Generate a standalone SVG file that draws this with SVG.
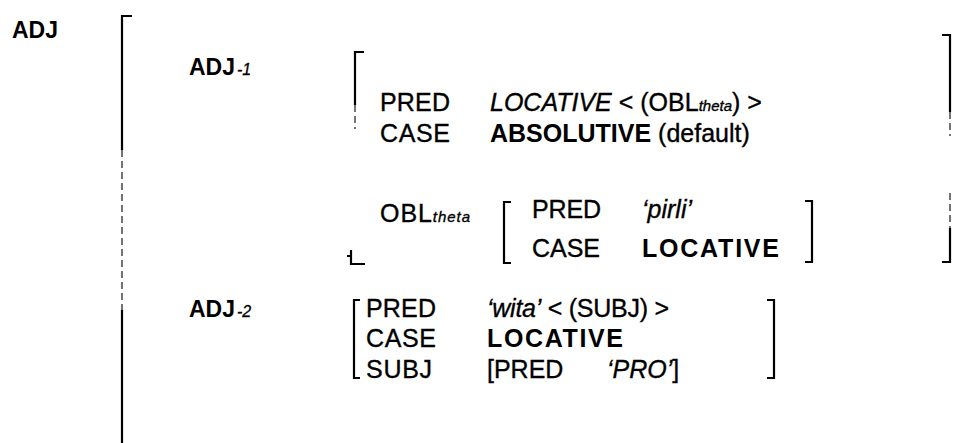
<svg xmlns="http://www.w3.org/2000/svg" width="969" height="443" viewBox="0 0 969 443">
<style>
text{font-family:"Liberation Sans",Arial,sans-serif;fill:#000;stroke:#000;stroke-width:0.35}
.lab{font-size:23px;font-weight:bold;stroke-width:0}
.t{font-size:25px}
.b{font-weight:bold;stroke-width:0}
.i{font-style:italic}
.sub{font-size:15px;font-style:italic}
.lsub{font-size:16px;font-style:italic;font-weight:normal;stroke-width:0.3}
.br{fill:none;stroke:#000;stroke-width:2.2}
.fa{fill:none;stroke:#000;stroke-width:1.1;stroke-dasharray:7 4}
</style>
<rect width="969" height="443" fill="#fff"/>
<g id="connectors">
<path class="br" d="M132,16 H122 V150"/>
<path class="fa" d="M122,150 V310"/>
<path class="br" d="M122,310 V443"/>
</g>
<g id="adj">
<text class="lab" x="12" y="38">ADJ</text>
</g>
<g id="adj1">
<text class="lab" x="189" y="75">ADJ<tspan class="lsub" dx="2">-1</tspan></text>
<path class="br" d="M364,52 H355 V105"/>
<path class="fa" d="M355,105 V129"/>
<text class="t" x="380" y="111" textLength="70">PRED</text>
<text class="t" x="490" y="111"><tspan class="i">LOCATIVE</tspan> &lt; (OBL<tspan class="sub">theta</tspan>) &gt;</text>
<text class="t" x="380" y="142" textLength="70">CASE</text>
<text class="t" x="490" y="142"><tspan class="b">ABSOLUTIVE</tspan> (default)</text>
<path class="br" d="M942,35 H950 V112"/>
<path class="fa" d="M950,112 V136"/>
<text class="t" x="380" y="222" textLength="90">OBL<tspan class="sub">theta</tspan></text>
<path class="br" d="M511,202 H504 V263 H511"/>
<text class="t" x="532" y="218" textLength="69">PRED</text>
<text class="t i" x="642" y="218">‘pirli’</text>
<text class="t" x="532" y="257" textLength="68">CASE</text>
<text class="t b" x="642" y="257" font-size="26" textLength="137">LOCATIVE</text>
<path class="br" d="M805,201 H812 V262 H805"/>
<path class="br" d="M351,250 V264 H365 M347,256 H351"/>
<path class="fa" d="M950,193 V228"/>
<path class="br" d="M950,228 V262 H942"/>
</g>
<g id="adj2">
<text class="lab" x="189" y="317">ADJ<tspan class="lsub" dx="2">-2</tspan></text>
<path class="br" d="M360,300 H354 V378 H360"/>
<text class="t" x="366" y="317" textLength="70">PRED</text>
<text class="t" x="487" y="317" textLength="182"><tspan class="i">‘wita’</tspan> &lt; (SUBJ) &gt;</text>
<text class="t" x="366" y="347" textLength="70">CASE</text>
<text class="t b" x="487" y="347" textLength="136">LOCATIVE</text>
<text class="t" x="366" y="378" textLength="66">SUBJ</text>
<text class="t" x="487" y="378">[PRED</text>
<text class="t i" x="607" y="378">‘PRO’<tspan font-style="normal">]</tspan></text>
<path class="br" d="M767,300 H774 V378 H767"/>
</g>
</svg>
